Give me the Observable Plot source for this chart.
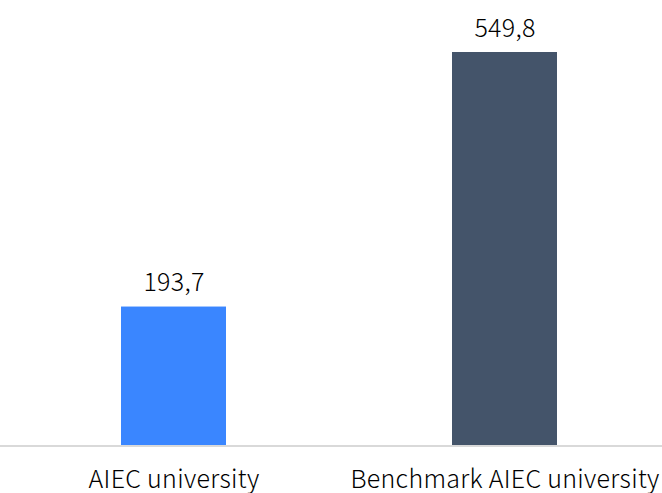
<!DOCTYPE html>
<html>
<head>
<meta charset="utf-8">
<script src="https://cdn.jsdelivr.net/npm/d3@7"></script>
<script src="https://cdn.jsdelivr.net/npm/@observablehq/plot@0.6"></script>
<style>
  html, body { margin: 0; padding: 0; background: #fff; }
  #chart svg { display: block; }
  #chart svg text { letter-spacing: 0.3px; }
</style>
</head>
<body>
<div id="chart"></div>
<script>
const categories = ["AIEC university", "Benchmark AIEC university"];
const values = [193.7, 549.8];
const colors = ["#3a86ff", "#44546a"];

const data = categories.map((c, i) => ({category: c, value: values[i], color: colors[i]}));
const fmt = v => v.toFixed(1).replace(".", ",");
const font = "'Noto Sans CJK KR', 'Noto Sans', sans-serif";

const chart = Plot.plot({
  width: 662,
  height: 493,
  marginTop: 52,
  marginBottom: 48,
  marginLeft: 0,
  marginRight: 0,
  style: {fontFamily: font, fontSize: "25px", fontWeight: 300, color: "#000", background: "#fff"},
  x: {domain: categories, range: [6.5, 670.5], paddingInner: 0.6837, paddingOuter: 0.3419, label: null},
  y: {domain: [0, 549.8], axis: null},
  marks: [
    Plot.barY(data, {x: "category", y: "value", fill: "color"}),
    Plot.ruleY([0], {stroke: "#d9d9d9", strokeWidth: 2, dy: 0.5}),
    Plot.text(data, {x: "category", y: "value", text: d => fmt(d.value), dy: -16, lineAnchor: "bottom", fontSize: 25, fontWeight: 300, fill: "#000"}),
    Plot.axisX({tickSize: 0, tickPadding: 25, fontSize: 25, fontWeight: 300, label: null, fill: "#000"})
  ]
});
document.getElementById("chart").appendChild(chart);
</script>
</body>
</html>
